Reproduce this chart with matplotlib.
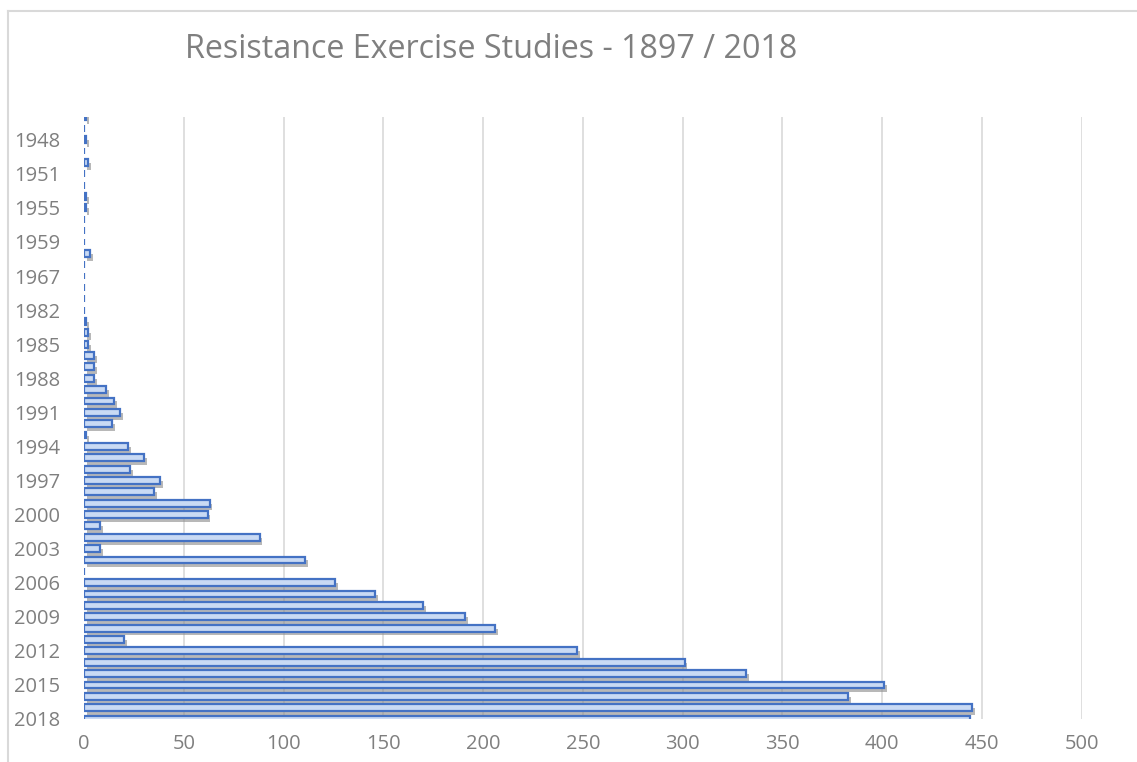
import matplotlib
matplotlib.use("Agg")
import matplotlib.pyplot as plt
import matplotlib.patheffects as pe
from matplotlib.lines import Line2D

# years from top to bottom of the chart (unlabeled ones are guesses)
years = ["1897", "1935", "1948", "1949", "1950", "1951", "1953", "1954", "1955",
         "1956", "1957", "1959", "1960", "1962", "1967", "1972", "1977", "1982",
         "1983", "1984", "1985", "1986", "1987", "1988", "1989", "1990", "1991",
         "1992", "1993", "1994", "1995", "1996", "1997", "1998", "1999", "2000",
         "2001", "2002", "2003", "2004", "2005", "2006", "2007", "2008", "2009",
         "2010", "2011", "2012", "2013", "2014", "2015", "2016", "2017", "2018"]
studies = [1, 0, 1, 0, 2, 0, 0, 1, 1,
           0, 0, 0, 3, 0, 0, 0, 0, 0,
           1, 2, 2, 5, 5, 5, 11, 15, 18,
           14, 1, 22, 30, 23, 38, 35, 63, 62,
           8, 88, 8, 111, 0, 126, 146, 170, 191,
           206, 20, 247, 301, 332, 401, 383, 445, 444]
x_ticks = [0, 50, 100, 150, 200, 250, 300, 350, 400, 450, 500]

font = "Open Sans"
grey_txt = "#7F7F7F"

fig = plt.figure(figsize=(11.37, 7.62), dpi=100)
ax = fig.add_axes([84 / 1137, 1 - 719 / 762, (1081.7 - 84) / 1137, (719 - 117) / 762])

pos = list(range(len(years)))
bars = ax.barh(pos, studies, height=0.6, color="#C9DAF4", edgecolor="#4472C4",
               linewidth=1.6, zorder=3)
for b in bars:
    b.set_path_effects([pe.SimplePatchShadow(offset=(2, -2.8), shadow_rgbFace="#8a8a8a", alpha=0.6),
                        pe.Normal()])

ax.set_xlim(0, 500)
ax.set_ylim(len(years) - 1, 0)
ax.set_xticks(x_ticks)
ax.set_xticklabels([str(t) for t in x_ticks], fontsize=14.5, color=grey_txt, family=font)
lab_pos = pos[2::3]
ax.set_yticks(lab_pos)
ax.set_yticklabels([years[i] for i in lab_pos], fontsize=14.5, color=grey_txt, family=font)
ax.tick_params(axis="both", length=0)
ax.tick_params(axis="y", pad=17)
ax.tick_params(axis="x", pad=11)
for s in ax.spines.values():
    s.set_visible(False)
for t in x_ticks[1:]:
    ax.axvline(t, color="#D9D9D9", linewidth=1.2, zorder=1)

fig.text(491.5 / 1137, 1 - 50 / 762, "Resistance Exercise Studies - 1897 / 2018",
         ha="center", va="center", fontsize=23.2, color=grey_txt, family=font)

# chart area border (only left and top are in the frame)
fig.add_artist(Line2D([8 / 1137, 8 / 1137], [0, 1 - 11 / 762], transform=fig.transFigure,
                      color="#D9D9D9", linewidth=1.5))
fig.add_artist(Line2D([8 / 1137, 1], [1 - 11 / 762, 1 - 11 / 762], transform=fig.transFigure,
                      color="#D9D9D9", linewidth=1.5))

fig.savefig("out.png", dpi=100)
